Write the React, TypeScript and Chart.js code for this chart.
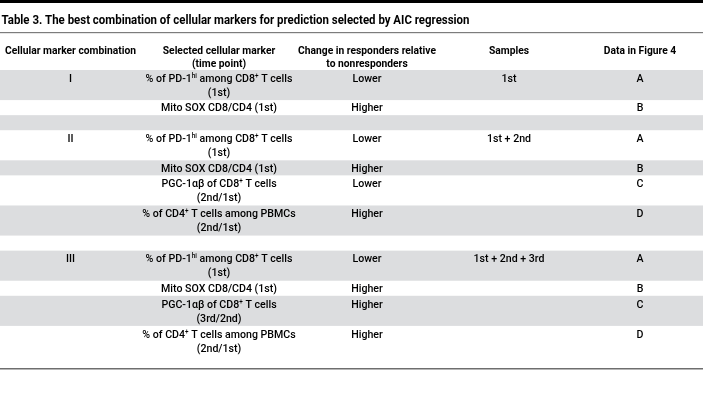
import React, { useEffect, useRef } from "react";
import { Chart, registerables } from "chart.js";

Chart.register(...registerables);

// ---- Table content ----
const title =
  "Table 3. The best combination of cellular markers for prediction selected by AIC regression";
const headers = [
  "Cellular marker combination",
  "Selected cellular marker|(time point)",
  "Change in responders relative|to nonresponders",
  "Samples",
  "Data in Figure 4",
];
const combos = ["I", "", "", "II", "", "", "", "", "III", "", "", ""];
const markers = [
  "% of PD-1^{hi} among CD8^{+} T cells|(1st)",
  "Mito SOX CD8/CD4 (1st)",
  "",
  "% of PD-1^{hi} among CD8^{+} T cells|(1st)",
  "Mito SOX CD8/CD4 (1st)",
  "PGC-1αβ of CD8^{+} T cells|(2nd/1st)",
  "% of CD4^{+} T cells among PBMCs|(2nd/1st)",
  "",
  "% of PD-1^{hi} among CD8^{+} T cells|(1st)",
  "Mito SOX CD8/CD4 (1st)",
  "PGC-1αβ of CD8^{+} T cells|(3rd/2nd)",
  "% of CD4^{+} T cells among PBMCs|(2nd/1st)",
];
const changes = ["Lower", "Higher", "", "Lower", "Higher", "Lower", "Higher", "", "Lower", "Higher", "Higher", "Higher"];
const samples = ["1st", "", "", "1st + 2nd", "", "", "", "", "1st + 2nd + 3rd", "", "", ""];
const figureData = ["A", "B", "", "A", "B", "C", "D", "", "A", "B", "C", "D"];

// ---- layout (not data) ----
const W = 703;
const H = 419;
const COL_X = [70.5, 219, 367, 509, 640];
const FONT = "Roboto, 'Noto Sans', sans-serif";
const BODY_SIZE = 10.5;
const HEAD_SIZE = 10.5;
const TITLE_SIZE = 12.5;
const GRAY = "#dcdddf";
const TEXT = "#000000";

type Seg = { t: string; sup: boolean };
function parse(s: string): Seg[] {
  const out: Seg[] = [];
  const re = /\^\{([^}]*)\}/g;
  let last = 0;
  let m: RegExpExecArray | null;
  while ((m = re.exec(s))) {
    if (m.index > last) out.push({ t: s.slice(last, m.index), sup: false });
    out.push({ t: m[1], sup: true });
    last = m.index + m[0].length;
  }
  if (last < s.length) out.push({ t: s.slice(last), sup: false });
  return out;
}

function fontStr(size: number, weight: string) {
  return `${weight} ${size}px ${FONT}`;
}

function measure(ctx: CanvasRenderingContext2D, segs: Seg[], size: number, weight: string) {
  let w = 0;
  for (const s of segs) {
    ctx.font = fontStr(s.sup ? size * 0.6 : size, weight);
    w += ctx.measureText(s.t).width;
  }
  return w;
}

function drawRich(
  ctx: CanvasRenderingContext2D,
  str: string,
  x: number,
  baseline: number,
  size: number,
  weight: string,
  sx: number,
  align: "center" | "left"
) {
  const segs = parse(str);
  const w = measure(ctx, segs, size, weight) * sx;
  const start = align === "center" ? x - w / 2 : x;
  ctx.save();
  ctx.translate(start, baseline);
  ctx.scale(sx, 1);
  ctx.textAlign = "left";
  ctx.textBaseline = "alphabetic";
  ctx.fillStyle = TEXT;
  let cx = 0;
  for (const s of segs) {
    const sz = s.sup ? size * 0.6 : size;
    ctx.font = fontStr(sz, weight);
    ctx.fillText(s.t, cx, s.sup ? -size * 0.38 : 0);
    cx += ctx.measureText(s.t).width;
  }
  ctx.restore();
}

function calib(ctx: CanvasRenderingContext2D, str: string, size: number, weight: string, target: number) {
  const w = measure(ctx, parse(str), size, weight);
  return w > 0 ? target / w : 1;
}

const rowLines = markers.map((m, i) => {
  const cells = [combos[i], m, changes[i], samples[i], figureData[i]];
  return Math.max(1, ...cells.map((c) => (c ? c.split("|").length : 1)));
});
const rowStart: number[] = [];
rowLines.reduce((acc, n, i) => {
  rowStart[i] = acc;
  return acc + n;
}, 0);
const totalUnits = rowLines.reduce((a, b) => a + b, 0);

const BODY_W = "500";
const HEAD_W = "bold";

const tablePlugin = {
  id: "tablePlugin",
  beforeDatasetsDraw(chart: any) {
    const ctx: CanvasRenderingContext2D = chart.ctx;
    const x = chart.scales.x;
    const y = chart.scales.y;
    ctx.save();
    ctx.fillStyle = "#ffffff";
    ctx.fillRect(0, 0, chart.width, chart.height);
    rowLines.forEach((n, i) => {
      if (i % 2 === 0) {
        const top = y.getPixelForValue(rowStart[i]);
        const bot = y.getPixelForValue(rowStart[i] + n);
        ctx.fillStyle = GRAY;
        ctx.fillRect(x.getPixelForValue(0), top, x.getPixelForValue(W) - x.getPixelForValue(0), bot - top);
      }
    });
    ctx.restore();
  },
  afterDraw(chart: any) {
    const ctx: CanvasRenderingContext2D = chart.ctx;
    const x = chart.scales.x;
    const y = chart.scales.y;
    const left = x.getPixelForValue(0);
    const right = x.getPixelForValue(W);
    ctx.save();
    // top black bar
    ctx.fillStyle = "#000";
    ctx.fillRect(left, 0, right - left, 3);
    // title
    const sxTitle = calib(ctx, title, TITLE_SIZE, HEAD_W, 468);
    drawRich(ctx, title, 1.5, 24, TITLE_SIZE, HEAD_W, sxTitle, "left");
    // rule under title
    ctx.fillStyle = "#7c7c7c";
    ctx.fillRect(left, 32, right - left, 1.2);
    // headers
    const sxHead = calib(ctx, "Change in responders relative", HEAD_SIZE, HEAD_W, 138);
    headers.forEach((h, c) => {
      h.split("|").forEach((line, li) => {
        drawRich(ctx, line, x.getPixelForValue(COL_X[c]), 54 + li * 13, HEAD_SIZE, HEAD_W, sxHead, "center");
      });
    });
    // body
    const sxBody = calib(ctx, "Mito SOX CD8/CD4 (1st)", BODY_SIZE, BODY_W, 116);
    const capH = BODY_SIZE * 0.711;
    const columns = [combos, markers, changes, samples, figureData];
    rowLines.forEach((n, i) => {
      const top = y.getPixelForValue(rowStart[i]);
      const bot = y.getPixelForValue(rowStart[i] + n);
      const mid = (top + bot) / 2;
      const firstCenter = mid - ((n - 1) / 2) * 14;
      columns.forEach((col, c) => {
        const cell = col[i];
        if (!cell) return;
        cell.split("|").forEach((line, li) => {
          const cc = firstCenter + li * 14;
          drawRich(ctx, line, x.getPixelForValue(COL_X[c]), cc + capH / 2, BODY_SIZE, BODY_W, sxBody, "center");
        });
      });
    });
    // bottom rule
    const bottom = y.getPixelForValue(totalUnits) + 12;
    ctx.fillStyle = "#6e6e6e";
    ctx.fillRect(left, bottom, right - left, 1.5);
    ctx.restore();
  },
};

export default function App() {
  const ref = useRef<HTMLCanvasElement | null>(null);
  useEffect(() => {
    document.body.style.margin = "0";
    const canvas = ref.current;
    if (!canvas) return;
    const chart = new Chart(canvas, {
      type: "scatter",
      data: { datasets: [{ data: [], pointRadius: 0 }] },
      options: {
        responsive: false,
        animation: false,
        devicePixelRatio: 1,
        layout: { padding: { top: 70, bottom: H - 356, left: 0, right: 0 } },
        scales: {
          x: { type: "linear", min: 0, max: W, display: false },
          y: { type: "linear", min: 0, max: totalUnits, reverse: true, display: false },
        },
        plugins: { legend: { display: false }, tooltip: { enabled: false }, title: { display: false } },
      },
      plugins: [tablePlugin],
    });
    return () => chart.destroy();
  }, []);
  return <canvas ref={ref} width={W} height={H} style={{ display: "block", width: W, height: H }} />;
}
